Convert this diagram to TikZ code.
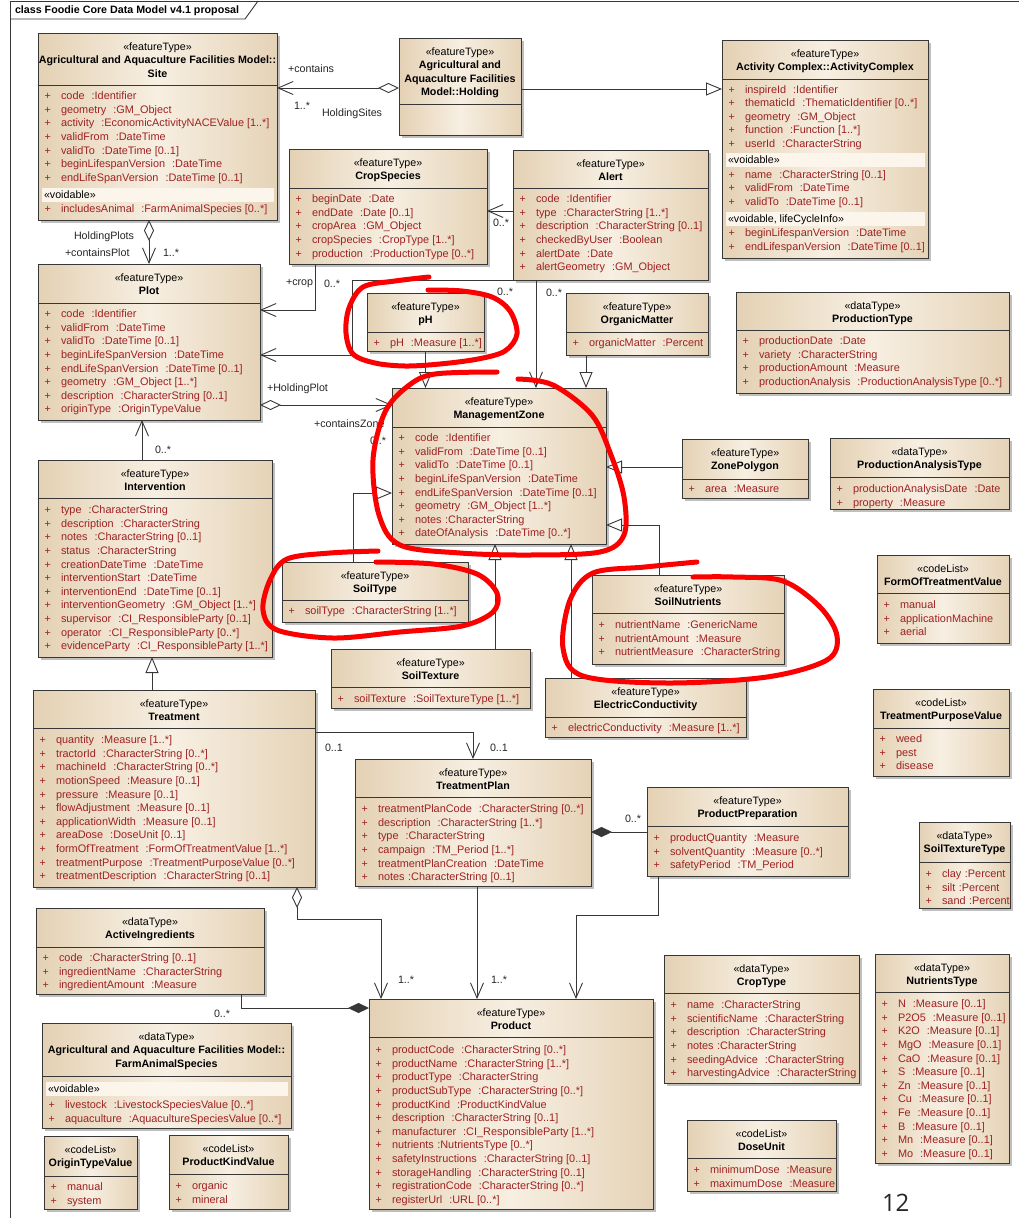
\documentclass[tikz,border=0pt]{standalone}
\usepackage{fontspec}
\setmainfont{Liberation Sans}
\newfontfamily\pagefont{Open Sans}
\usetikzlibrary{arrows.meta,shadows}
\definecolor{tanL}{RGB}{228,209,180}
\definecolor{tanM}{RGB}{247,239,226}
\definecolor{tanR}{RGB}{229,211,183}
\definecolor{voidc}{RGB}{251,245,236}
\definecolor{attrc}{RGB}{158,34,34}
\definecolor{linec}{RGB}{55,55,55}
\definecolor{markred}{RGB}{250,0,0}
\newcommand\gap{\hspace{7pt}}
\newcommand\sgap{\hspace{3.5pt}}
\tikzset{
  every node/.style={font=\fontsize{10.7}{13.6}\selectfont, inner sep=0pt, outer sep=0pt},
  clsbox/.style={draw=linec, line width=1pt, left color=tanL, right color=tanR, middle color=tanM,
    drop shadow={shadow xshift=3pt, shadow yshift=-3pt, opacity=0.25, fill=black}},
  sepline/.style={draw=linec, line width=1pt},
  hdr/.style={anchor=base, text=black},
  plus/.style={anchor=base west, text=attrc},
  attr/.style={anchor=base west, text=attrc, font=\fontsize{10.9}{13.6}\selectfont},
  voidband/.style={fill=voidc, minimum height=13.5pt},
  lbl/.style={anchor=base west, text=black!85},
  conn/.style={draw=linec, line width=0.9pt},
  nav/.style={arrows={-Straight Barb[length=15pt,width=13pt]}},
  gen/.style={arrows={-Triangle[open,length=16pt,width=13pt,fill=white]}},
  agg/.style={arrows={Diamond[open,length=21pt,width=10pt,fill=white]-Straight Barb[length=15pt,width=13pt]}},
  comp/.style={arrows={Diamond[length=21pt,width=10pt]-}},
  compend/.style={arrows={-Diamond[length=21pt,width=10pt]}},
  redmark/.style={draw=markred, line width=5pt, line cap=round, line join=round},
}
% id, x1, y1, x2, y2, ysep, header list
\newcommand\umlcls[7]{%
  \node[clsbox, minimum width={(#4-#2)*1pt}, minimum height={(#5-#3)*1pt}] (#1) at ({(#2+#4)/2},{(#3+#5)/2}) {};
  \draw[sepline] (#1.west |- 0,#6) -- (#1.east |- 0,#6);
  \foreach \t [count=\k] in {#7} {%
    \node[hdr] (#1-h\k) at ({(#2+#4)/2},{#3+13.5*\k+3.6}) {\ifnum\k=1 \else\bfseries\fi\t};
  }%
}
% prefix, x1, first y, list
\newcommand\umlattrs[4]{%
  \foreach \a [count=\k] in {#4} {%
    \node[plus] (#1-p\k) at ({#2+6.5},{#3+13.6*(\k-1)+3.6}) {+};
    \node[attr] (#1-a\k) at ({#2+23},{#3+13.6*(\k-1)+3.6}) {\a};
  }%
}
% id, x1, x2, y centre, text
\newcommand\umlvoid[5]{%
  \node[voidband, minimum width={(#3-#2-7)*1pt}] (#1) at ({(#2+#3)/2},#4) {};
  \node[hdr, anchor=base west] (#1-t) at ({#2+6},{#4+3.6}) {#5};
}
\begin{document}
\begin{tikzpicture}[x=1pt,y=-1pt]
\useasboundingbox[fill=white] (0,0) rectangle (1019,1218);
% frame
\draw[draw=linec, line width=0.9pt] (10,1218) -- (10,1) -- (1019,1);
\draw[draw=linec, line width=0.9pt] (10,19) -- (245,19) -- (258,1);
\node[anchor=base west, font=\bfseries\fontsize{10.7}{13.6}\selectfont] (title) at (15,13.8) {class Foodie Core Data Model v4.1 proposal};

% ---------- classes ----------
\umlcls{site}{38}{33}{277}{220}{85}{«featureType»,Agricultural and Aquaculture Facilities Model::,Site}
\umlattrs{site}{38}{96}{code\gap:Identifier, geometry\gap:GM\_Object, activity\gap:EconomicActivityNACEValue [1..*], validFrom\gap:DateTime, validTo\gap:DateTime [0..1], beginLifespanVersion\gap:DateTime, endLifeSpanVersion\gap:DateTime [0..1]}
\umlvoid{site-vb}{38}{277}{195}{«voidable»}
\umlattrs{site-v}{38}{209}{includesAnimal\gap:FarmAnimalSpecies [0..*]}

\umlcls{holding}{399}{38}{521}{135}{104}{«featureType»,Agricultural and,Aquaculture Facilities,Model::Holding}

\umlcls{ac}{722}{40}{928}{258}{79}{«featureType»,Activity Complex::ActivityComplex}
\umlattrs{ac}{722}{89.5}{inspireId\gap:Identifier, thematicId\gap:ThematicIdentifier [0..*], geometry\gap:GM\_Object, function\gap:Function [1..*], userId\gap:CharacterString}
\umlvoid{ac-vb}{722}{928}{160}{«voidable»}
\umlattrs{ac-v}{722}{174.5}{name\gap:CharacterString [0..1], validFrom\gap:DateTime, validTo\gap:DateTime [0..1]}
\umlvoid{ac-lb}{722}{928}{219}{«voidable, lifeCycleInfo»}
\umlattrs{ac-l}{722}{233}{beginLifespanVersion\gap:DateTime, endLifespanVersion\gap:DateTime [0..1]}

\umlcls{crop}{289}{149}{487}{264}{188}{«featureType»,CropSpecies}
\umlattrs{crop}{289}{199}{beginDate\gap:Date, endDate\gap:Date [0..1], cropArea\gap:GM\_Object, cropSpecies\gap:CropType [1..*], production\gap:ProductionType [0..*]}

\umlcls{alert}{513}{150}{708}{280}{188}{«featureType»,Alert}
\umlattrs{alert}{513}{199}{code\gap:Identifier, type\gap:CharacterString [1..*], description\gap:CharacterString [0..1], checkedByUser\gap:Boolean, alertDate\gap:Date, alertGeometry\gap:GM\_Object}

\umlcls{plot}{38}{264}{260}{420}{303}{«featureType»,Plot}
\umlattrs{plot}{38}{314}{code\gap:Identifier, validFrom\gap:DateTime, validTo\gap:DateTime [0..1], beginLifeSpanVersion\gap:DateTime, endLifeSpanVersion\gap:DateTime [0..1], geometry\gap:GM\_Object [1..*], description\gap:CharacterString [0..1], originType\gap:OriginTypeValue}

\umlcls{ph}{367}{293}{484}{351}{332}{«featureType»,pH}
\umlattrs{ph}{367}{343}{pH\gap:Measure [1..*]}

\umlcls{om}{566}{293}{708}{355}{332}{«featureType»,OrganicMatter}
\umlattrs{om}{566}{343}{organicMatter\gap:Percent}

\umlcls{prodtype}{736}{292}{1009}{393}{330}{«dataType»,ProductionType}
\umlattrs{prodtype}{736}{341}{productionDate\gap:Date, variety\gap:CharacterString, productionAmount\gap:Measure, productionAnalysis\gap:ProductionAnalysisType [0..*]}

\umlcls{mz}{392}{388}{606}{544}{427}{«featureType»,ManagementZone}
\umlattrs{mz}{392}{438}{code\gap:Identifier, validFrom\gap:DateTime [0..1], validTo\gap:DateTime [0..1], beginLifeSpanVersion\gap:DateTime, endLifeSpanVersion\gap:DateTime [0..1], geometry\gap:GM\_Object [1..*], notes\sgap:CharacterString, dateOfAnalysis\gap:DateTime [0..*]}

\umlcls{zp}{682}{439}{808}{498}{479}{«featureType»,ZonePolygon}
\umlattrs{zp}{682}{489}{area\gap:Measure}

\umlcls{pat}{830}{438}{1009}{509}{477}{«dataType»,ProductionAnalysisType}
\umlattrs{pat}{830}{489}{productionAnalysisDate\gap:Date, property\gap:Measure}

\umlcls{interv}{38}{460}{272}{657}{498}{«featureType»,Intervention}
\umlattrs{interv}{38}{510}{type\gap:CharacterString, description\gap:CharacterString, notes\gap:CharacterString [0..1], status\gap:CharacterString, creationDateTime\gap:DateTime, interventionStart\gap:DateTime, interventionEnd\gap:DateTime [0..1], interventionGeometry\gap:GM\_Object [1..*], supervisor\gap:CI\_ResponsibleParty [0..1], operator\gap:CI\_ResponsibleParty [0..*], evidenceParty\gap:CI\_ResponsibleParty [1..*]}

\umlcls{soiltype}{282}{562}{468}{622}{600}{«featureType»,SoilType}
\umlattrs{soiltype}{282}{611}{soilType\gap:CharacterString [1..*]}

\umlcls{soiltex}{331}{649}{530}{708}{687}{«featureType»,SoilTexture}
\umlattrs{soiltex}{331}{699}{soilTexture\gap:SoilTextureType [1..*]}

\umlcls{sn}{592}{575}{784}{664}{613}{«featureType»,SoilNutrients}
\umlattrs{sn}{592}{625}{nutrientName\gap:GenericName, nutrientAmount\gap:Measure, nutrientMeasure\gap:CharacterString}

\umlcls{ec}{545}{678}{746}{737}{717}{«featureType»,ElectricConductivity}
\umlattrs{ec}{545}{728}{electricConductivity\gap:Measure [1..*]}

\umlcls{fotv}{877}{555}{1009}{643}{593}{«codeList»,FormOfTreatmentValue}
\umlattrs{fotv}{877}{605}{manual, applicationMachine, aerial}

\umlcls{tpv}{873}{689}{1009}{776}{728}{«codeList»,TreatmentPurposeValue}
\umlattrs{tpv}{873}{739}{weed, pest, disease}

\umlcls{treat}{33}{690}{315}{887}{728}{«featureType»,Treatment}
\umlattrs{treat}{33}{740}{quantity\gap:Measure [1..*], tractorId\gap:CharacterString [0..*], machineId\gap:CharacterString [0..*], motionSpeed\gap:Measure [0..1], pressure\gap:Measure [0..1], flowAdjustment\gap:Measure [0..1], applicationWidth\gap:Measure [0..1], areaDose\gap:DoseUnit [0..1], formOfTreatment\gap:FormOfTreatmentValue [1..*], treatmentPurpose\gap:TreatmentPurposeValue [0..*], treatmentDescription\gap:CharacterString [0..1]}

\umlcls{tp}{355}{759}{591}{886}{797}{«featureType»,TreatmentPlan}
\umlattrs{tp}{355}{809}{treatmentPlanCode\gap:CharacterString [0..*], description\gap:CharacterString [1..*], type\gap:CharacterString, campaign\gap:TM\_Period [1..*], treatmentPlanCreation\gap:DateTime, notes\sgap:CharacterString [0..1]}

\umlcls{pp}{647}{787}{848}{876}{826}{«featureType»,ProductPreparation}
\umlattrs{pp}{647}{838}{productQuantity\gap:Measure, solventQuantity\gap:Measure [0..*], safetyPeriod\gap:TM\_Period}

\umlcls{stt}{919}{822}{1010}{908}{862}{«dataType»,SoilTextureType}
\umlattrs{stt}{919}{874}{clay\sgap:Percent, silt\sgap:Percent, sand\sgap:Percent}

\umlcls{ai}{36}{908}{264}{994}{947}{«dataType»,ActiveIngredients}
\umlattrs{ai}{36}{958}{code\gap:CharacterString [0..1], ingredientName\gap:CharacterString, ingredientAmount\gap:Measure}

\umlcls{fas}{42}{1023}{291}{1128}{1076}{«dataType»,Agricultural and Aquaculture Facilities Model::,FarmAnimalSpecies}
\umlvoid{fas-vb}{42}{291}{1089}{«voidable»}
\umlattrs{fas}{42}{1105}{livestock\gap:LivestockSpeciesValue [0..*], aquaculture\gap:AquacultureSpeciesValue [0..*]}

\umlcls{otv}{44}{1136}{137}{1209}{1176}{«codeList»,OriginTypeValue}
\umlattrs{otv}{44}{1187}{manual, system}

\umlcls{pkv}{169}{1135}{288}{1209}{1174}{«codeList»,ProductKindValue}
\umlattrs{pkv}{169}{1186}{organic, mineral}

\umlcls{product}{369}{999}{653}{1209}{1037}{«featureType»,Product}
\umlattrs{product}{369}{1050}{productCode\gap:CharacterString [0..*], productName\gap:CharacterString [1..*], productType\gap:CharacterString, productSubType\gap:CharacterString [0..*], productKind\gap:ProductKindValue, description\gap:CharacterString [0..1], manufacturer\gap:CI\_ResponsibleParty [1..*], nutrients\sgap:NutrientsType [0..*], safetyInstructions\gap:CharacterString [0..1], storageHandling\gap:CharacterString [0..1], registrationCode\gap:CharacterString [0..*], registerUrl\gap:URL [0..*]}

\umlcls{croptype}{664}{955}{859}{1083}{993}{«dataType»,CropType}
\umlattrs{croptype}{664}{1005}{name\gap:CharacterString, scientificName\gap:CharacterString, description\gap:CharacterString, notes\sgap:CharacterString, seedingAdvice\gap:CharacterString, harvestingAdvice\gap:CharacterString}

\umlcls{nt}{875}{954}{1009}{1163}{992}{«dataType»,NutrientsType}
\umlattrs{nt}{875}{1004}{N\gap:Measure [0..1], P2O5\gap:Measure [0..1], K2O\gap:Measure [0..1], MgO\gap:Measure [0..1], CaO\gap:Measure [0..1], S\gap:Measure [0..1], Zn\gap:Measure [0..1], Cu\gap:Measure [0..1], Fe\gap:Measure [0..1], B\gap:Measure [0..1], Mn\gap:Measure [0..1], Mo\gap:Measure [0..1]}

\umlcls{dose}{687}{1120}{836}{1191}{1158}{«codeList»,DoseUnit}
\umlattrs{dose}{687}{1170}{minimumDose\gap:Measure, maximumDose\gap:Measure}

% ---------- connectors ----------
\draw[conn, agg] (holding.west |- 0,88) -- (site.east |- 0,88);
\draw[conn, gen] (holding.east |- 0,89) -- (ac.west |- 0,89);
\draw[conn, agg] (site.south -| plot.north) -- (plot.north);
\draw[conn, nav] (crop.south -| 315,0) |- (plot.east |- 0,310);
\draw[conn, nav] (alert.west |- 0,211) -- (crop.east |- 0,211);
\draw[conn, nav] (alert.south west) -| (352,355) -- (plot.east |- 0,355);
\draw[conn, nav] (alert.south -| 536,0) -- (mz.north -| 536,0);
\draw[conn, gen] (ph.south) -- (ph.south |- mz.north);
\draw[conn, gen] (om.south -| 586,0) -- (mz.north -| 586,0);
\draw[conn, agg] (plot.east |- 0,405) -- (mz.west |- 0,405);
\draw[conn, gen] (zp.west |- 0,467) -- (mz.east |- 0,467);
\draw[conn, gen] (soiltype.north -| 353,0) |- (mz.west |- 0,493);
\draw[conn, gen] (soiltex.north -| 495,0) -- (mz.south -| 495,0);
\draw[conn, gen] (sn.north -| 659,0) |- (mz.east |- 0,525);
\draw[conn, gen] (ec.north -| 571,0) -- (mz.south -| 571,0);
\draw[conn, nav] (interv.north -| 142,0) -- (plot.south -| 142,0);
\draw[conn, gen] (treat.north -| 152,0) -- (interv.south -| 152,0);
\draw[conn, nav] (treat.east |- 0,732) -| (tp.north);
\draw[conn, comp] (tp.east |- 0,832) -- (pp.west |- 0,832);
\draw[conn, nav] (tp.south -| 477,0) -- (product.north -| 477,0);
\draw[conn, nav] (pp.south -| 658,0) |- (576,915) -- (product.north -| 576,0);
\draw[conn, agg] (treat.south -| 297,0) |- (381,919) -- (product.north -| 381,0);
\draw[conn, compend] (ai.south -| 241,0) |- (product.west |- 0,1008);

% ---------- connector labels ----------
\node[lbl] (l1) at (288,72.6) {+contains};
\node[lbl] (l2) at (294,109.6) {1..*};
\node[lbl] (l3) at (322,116.6) {HoldingSites};
\node[lbl] (l4) at (74,239.6) {HoldingPlots};
\node[lbl] (l5) at (65,256.6) {+containsPlot};
\node[lbl] (l6) at (163,256.6) {1..*};
\node[lbl] (l7) at (286,285.6) {+crop};
\node[lbl] (l8) at (324,287.6) {0..*};
\node[lbl] (l9) at (493,226.6) {0..*};
\node[lbl] (l10) at (497,295.6) {0..*};
\node[lbl] (l11) at (546,296.6) {0..*};
\node[lbl] (l12) at (267,391.6) {+HoldingPlot};
\node[lbl] (l13) at (314,427.6) {+containsZone};
\node[lbl] (l14) at (370,444.6) {0..*};
\node[lbl] (l15) at (155,453.6) {0..*};
\node[lbl] (l16) at (325,751.6) {0..1};
\node[lbl] (l17) at (490,751.6) {0..1};
\node[lbl] (l18) at (625,822.6) {0..*};
\node[lbl] (l19) at (398,983.6) {1..*};
\node[lbl] (l20) at (491,983.6) {1..*};
\node[lbl] (l21) at (214,1017.6) {0..*};

% ---------- red hand-drawn marks ----------
\draw[redmark] plot[smooth, tension=0.55] coordinates {(429,277) (395,281) (363,287) (349,308) (346,333) (353,354) (375,363) (405,366) (440,364) (478,359) (505,351) (517,334) (510,311) (492,297) (462,291) (428,290)};
\draw[redmark] plot[smooth, tension=0.55] coordinates {(497,372) (435,374) (408,386) (385,412) (373,460) (379,515) (400,545) (460,553) (530,555) (600,552) (624,535) (624,497) (611,455) (592,415) (553,385) (518,379)};
\draw[redmark] plot[smooth, tension=0.55] coordinates {(378,551) (330,553) (287,559) (270,580) (263,610) (277,630) (333,638) (400,632) (462,626) (493,612) (497,593) (477,574) (433,564) (376,562)};
\draw[redmark] plot[smooth, tension=0.55] coordinates {(697,562) (645,567) (593,573) (570,600) (563,648) (583,676) (667,683) (767,677) (827,660) (837,636) (820,607) (783,581) (733,577) (693,577)};

% page number
\node[anchor=base west, font=\pagefont\fontsize{24}{28}\selectfont, text=black!85] (pagenum) at (882,1211) {12};
\end{tikzpicture}
\end{document}
